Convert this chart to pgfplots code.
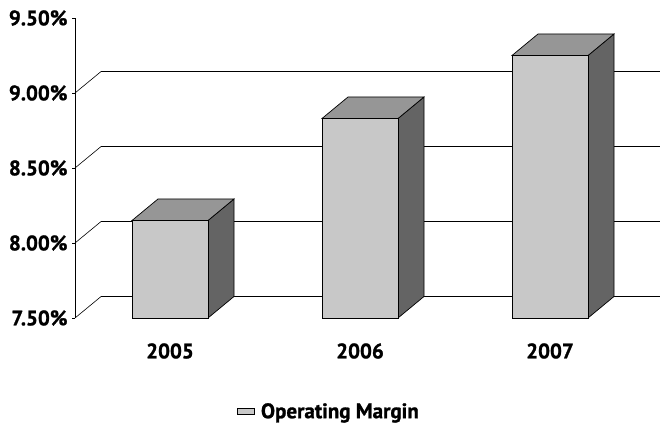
\documentclass[border=0pt]{standalone}
\usepackage{fontspec}
\setmainfont{PT Sans}
\newfontfamily\heavyfont[FakeBold=1.2]{PT Sans Bold}
\usepackage{pgfplots}
\usepackage{pgfplotstable}
\pgfplotsset{compat=1.18}
\definecolor{barfront}{HTML}{C8C8C8}
\definecolor{bartop}{HTML}{969696}
\definecolor{barside}{HTML}{646464}
\pgfplotstableread{
x v
0 8.15
1 8.83
2 9.25
}\margin
\newcommand{\lblfont}{\heavyfont\fontsize{21}{24}\selectfont}
\begin{document}
\begin{tikzpicture}
\path[use as bounding box] (0,0) rectangle (660pt,430pt);
\begin{axis}[
  at={(75pt,112pt)}, anchor=south west,
  x=190pt, y=150pt,
  xmin=-0.5, xmax=2.5, ymin=7.5, ymax=9.5,
  clip=false,
  axis x line=none,
  axis y line*=left,
  y axis line style={black, line width=0.6pt, -},
  ytick={7.5,8,8.5,9,9.5},
  yticklabels={7.50\%,8.00\%,8.50\%,9.00\%,9.50\%},
  yticklabel style={font=\lblfont, xshift=-1pt},
  major tick length=3pt,
  tick align=outside,
  tick style={black, line width=0.6pt},
  legend style={at={(0.445,-0.27)}, anchor=north, draw=none, font=\lblfont,
    legend cell align=left},
  legend image code/.code={
    \filldraw[fill=barfront, draw=black, line width=0.6pt] (0pt,-8pt) rectangle (16pt,8pt);
  },
]
% front-to-back connectors and back-wall gridlines
\foreach \g in {7.5,8,8.5,9} {
  \edef\tmp{\noexpand\draw[black, line width=0.6pt] (axis cs:-0.5,\g) -- (axis cs:-0.363,\g+0.143) -- (axis cs:3,\g+0.143);}
  \tmp
}
% 3D bars drawn at the data points
\addplot[
  scatter, only marks, forget plot,
  mark=*, mark size=0pt, mark options={draw=none, fill=none},
  visualization depends on={(\thisrow{v}-7.5)*150 \as \hh},
  scatter/@pre marker code/.code={
    \filldraw[fill=barside, draw=black, line width=0.7pt]
      (38pt,0pt) -- (64pt,21.5pt) -- (64pt,21.5pt-\hh pt) -- (38pt,-\hh pt) -- cycle;
    \filldraw[fill=bartop, draw=black, line width=0.7pt]
      (-38pt,0pt) -- (38pt,0pt) -- (64pt,21.5pt) -- (-12pt,21.5pt) -- cycle;
    \filldraw[fill=barfront, draw=black, line width=0.7pt]
      (-38pt,0pt) rectangle (38pt,-\hh pt);
  },
  scatter/@post marker code/.code={},
] table[x=x, y=v] {\margin};
\addlegendimage{area legend, fill=barfront, draw=black}
\addlegendentry{\hspace*{5pt}Operating Margin}
% category labels
\node[font=\lblfont] at (axis cs:0,7.5) [yshift=-33pt] {2005};
\node[font=\lblfont] at (axis cs:1,7.5) [yshift=-33pt] {2006};
\node[font=\lblfont] at (axis cs:2,7.5) [yshift=-33pt] {2007};
\end{axis}
\end{tikzpicture}
\end{document}
